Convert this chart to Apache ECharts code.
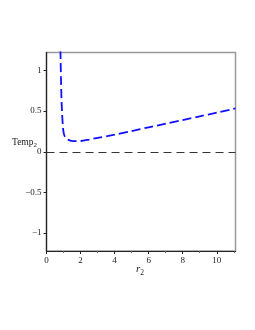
<!DOCTYPE html>
<html><head><meta charset="utf-8">
<script src="https://cdn.jsdelivr.net/npm/echarts@6/dist/echarts.min.js"></script>
<style>html,body{margin:0;padding:0;background:#fff}#c{width:255px;height:330px}</style>
</head><body><div id="c"></div>
<script>
const rValues = [0.82,0.85,0.88,0.91,0.94,0.97,1.02,1.1,1.22,1.4,1.7,2.0,2.5,3,4,5,6,7,8,9,10,11.1];
const tempValues = [1.25,0.9,0.65,0.5,0.38,0.29,0.22,0.18,0.155,0.138,0.13,0.132,0.15,0.17,0.21,0.255,0.3,0.345,0.39,0.435,0.48,0.532];
const xTicks = [0,2,4,6,8,10];
const yTicks = [-1,-0.5,0,0.5,1];
const xRange = [0, 11.1];
const yRange = [-1.22, 1.22];
const xTitle = 'r';
const yTitle = 'Temp';

const chart = echarts.init(document.getElementById('c'), null, {renderer:'canvas'});
const font = 'Liberation Serif';
chart.setOption({
  animation:false,
  grid:{left:46.5, right:19.5, top:52.5, bottom:79, show:true, borderColor:'#999', borderWidth:1.5, backgroundColor:'transparent'},
  xAxis:{type:'value', min:xRange[0], max:xRange[1], interval:2,
    axisLine:{show:true, onZero:false, lineStyle:{color:'#222', width:1.2}},
    axisTick:{show:true, length:3, lineStyle:{color:'#222'}, customValues:xTicks},
    minorTick:{show:true, splitNumber:2, length:2, lineStyle:{color:'#666'}},
    axisLabel:{color:'#222', fontFamily:font, fontSize:9, margin:5, customValues:xTicks},
    splitLine:{show:false}},
  yAxis:{type:'value', min:yRange[0], max:yRange[1],
    axisLine:{show:true, onZero:false, lineStyle:{color:'#222', width:1.2}},
    axisTick:{show:true, length:3, lineStyle:{color:'#222'}, customValues:yTicks},
    axisLabel:{color:'#222', fontFamily:font, fontSize:9, margin:5, customValues:yTicks,
      formatter:v=>String(v).replace('-', '\u2212')},
    splitLine:{show:false}},
  graphic:[
    {type:'text', left:12, top:137, style:{text:'{a|'+yTitle+'}{s|2}', rich:{a:{fontFamily:font,fontSize:9.5,fill:'#222'}, s:{fontFamily:font,fontSize:7,fill:'#222',padding:[6,0,0,0]}}}},
    {type:'text', left:136, top:264, style:{text:'{a|'+xTitle+'}{s|2}', rich:{a:{fontFamily:font,fontSize:11,fontStyle:'italic',fill:'#222'}, s:{fontFamily:font,fontSize:7.5,fill:'#222',padding:[7,0,0,0]}}}}
  ],
  series:[{
    type:'line', showSymbol:false, smooth:0.3, clip:true,
    data: rValues.map((r,i)=>[r,tempValues[i]]),
    lineStyle:{color:'#1010ff', width:1.8, type:[9,4]},
    markLine:{silent:true, symbol:'none', label:{show:false},
      lineStyle:{color:'#333', width:1, type:[8,5]},
      data:[{yAxis:0}]}
  }]
});
</script></body></html>
